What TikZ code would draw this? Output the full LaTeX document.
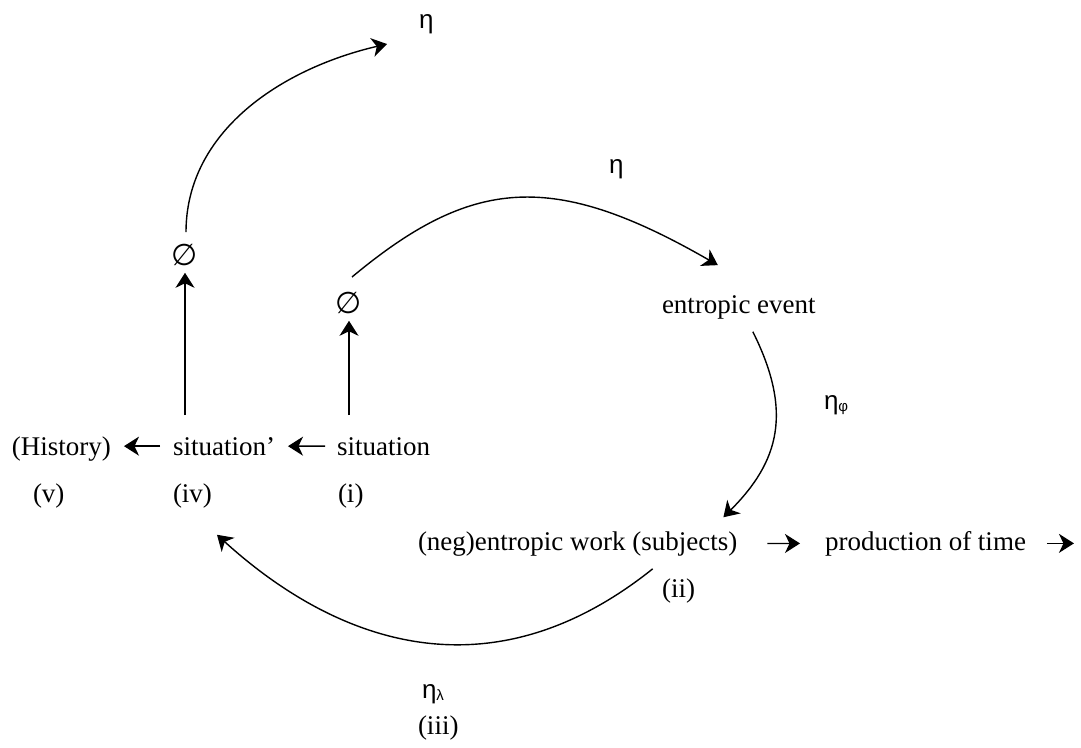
\documentclass[tikz,border=0pt]{standalone}
\usepackage{fontspec}
\setmainfont{Liberation Serif}
\newfontfamily\grk{Liberation Sans}
\newfontfamily\symf{DejaVu Sans}
\usetikzlibrary{arrows.meta,calc}
\tikzset{
  lbl/.style={inner sep=0pt, outer sep=0pt, anchor=base west, font=\fontsize{27}{30}\selectfont},
  etalbl/.style={inner sep=0pt, outer sep=0pt, anchor=base west, font=\grk\fontsize{26}{28}\selectfont},
  empt/.style={inner sep=0pt, outer sep=0pt, font=\symf\fontsize{30}{32}\selectfont},
  arr/.style={line width=1.4pt, -{Stealth[length=15pt,width=19pt,inset=4.5pt]}}
}
\newcommand{\subsym}[1]{\raisebox{-2pt}{\grk\fontsize{15}{15}\selectfont #1}}
\begin{document}
\begin{tikzpicture}[x=1pt,y=-1pt]
\useasboundingbox (0,0) rectangle (1081,747);
\fill[white] (0,0) rectangle (1081,747);

% texts
\node[lbl] (hist) at (12,455) {(History)};
\node[lbl] (sitp) at (173,455) {situation’};
\node[lbl] (sit) at (337,455) {situation};
\node[lbl] (v) at (33,502) {(v)};
\node[lbl] (iv) at (173,502) {(iv)};
\node[lbl] (i) at (338,502) {(i)};
\node[lbl] (ev) at (662,313) {entropic event};
\node[lbl] (work) at (418,550) {(neg)entropic work (subjects)};
\node[lbl] (prod) at (825,550) {production of time};
\node[lbl] (ii) at (662,597) {(ii)};
\node[lbl] (iii) at (418,734) {(iii)};

% eta labels
\node[etalbl] (etaT) at (419,28) {η};
\node[etalbl] (etaM) at (609,173) {η};
\node[etalbl] (etaP) at (824,409) {η\subsym{φ}};
\node[etalbl] (etaL) at (422,698) {η\subsym{λ}};

% empty sets
\node[empt] (e2) at (185,255) {∅};
\node[empt] (e1) at (349,303) {∅};
\coordinate (endT) at ($(etaT.base west)+(-32,16)$);
\coordinate (endR) at ($(prod.east)+(48,0)$);

% horizontal arrows
\draw[arr, shorten <=12pt, shorten >=13pt] (sit.west) -- (sitp.east);
\draw[arr, shorten <=13pt, shorten >=13pt] (sitp.west) -- (sitp.west -| hist.east);
\draw[arr, shorten <=30pt, shorten >=25pt] (work.east) -- (prod.west);
\draw[arr, shorten <=21pt] (prod.east) -- (endR);

% vertical arrows
\draw[arr, shorten <=22pt, shorten >=7pt] (e1 |- sit.north) -- (e1.south);
\draw[arr, shorten <=22pt, shorten >=7pt] (e2 |- sitp.north) -- (e2.south);

% curved arrows
\draw[arr] ($(e2.north)+(1,-12)$) .. controls +(0,-100) and +(-107,25) .. (endT);
\draw[arr] ($(e1)+(3,-26)$) .. controls +(120,-100) and +(-165,-95) .. ($(ev.north)+(-21,-30)$);
\draw[arr] ($(ev.south)+(14,13)$) .. controls +(40,80) and +(56,-56) .. ($(work.north east)+(-14,-14)$);
\draw[arr] ($(work.south)+(75,13)$) .. controls +(-170,136) and +(110,100) .. ($(iv.south east)+(5,27)$);
\end{tikzpicture}
\end{document}
